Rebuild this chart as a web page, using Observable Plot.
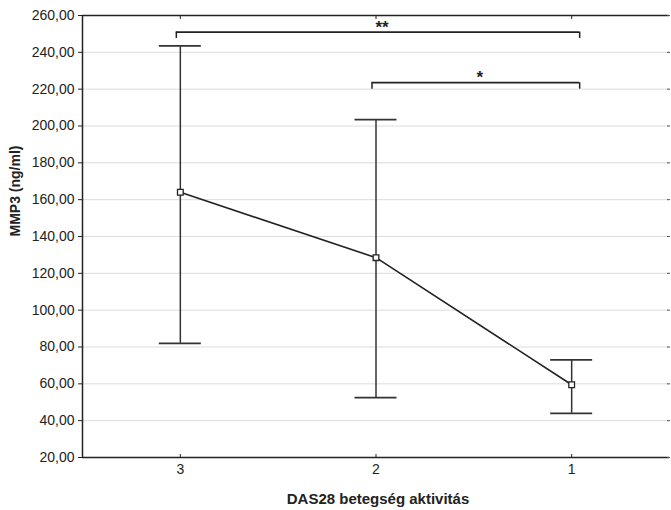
<!DOCTYPE html>
<html><head><meta charset="utf-8">
<script src="https://cdn.jsdelivr.net/npm/d3@7"></script>
<script src="https://cdn.jsdelivr.net/npm/@observablehq/plot@0.6"></script>
<style>body{margin:0;background:#fff;}</style>
</head><body><div id="chart"></div>
<script>
// DAS28 disease activity groups (x categories, displayed 3, 2, 1)
const groups = [3, 2, 1];
const means  = [164, 128.5, 59.5];
const upper  = [243.5, 203.5, 73];
const lower  = [82, 52.5, 44];
const yTicks = [20, 40, 60, 80, 100, 120, 140, 160, 180, 200, 220, 240, 260];
// significance brackets
const brFrom   = [3, 2];
const brTo     = [1, 1];
const brLevel  = [251, 223.5];
const brLabel  = ["**", "*"];

const data = groups.map((g, i) => ({g, mean: means[i], hi: upper[i], lo: lower[i]}));
const br = brFrom.map((f, i) => ({f, t: brTo[i], y: brLevel[i], lab: brLabel[i], mid: (f + brTo[i]) / 2}));
const fmt = d => d.toFixed(2).replace(".", ",");
const ink = "#222";

const chart = Plot.plot({
  width: 671, height: 510,
  marginLeft: 82, marginRight: 2, marginTop: 15, marginBottom: 53,
  style: {fontFamily: "'Liberation Sans', Arial, sans-serif", fontSize: "14px", color: ink, background: "#fff"},
  x: {type: "linear", domain: [3.5, 0.5], ticks: groups, label: null},
  y: {domain: [20, 260], ticks: yTicks, label: null},
  marks: [
    Plot.gridY(yTicks, {stroke: "#dcdcdc", strokeOpacity: 1}),
    Plot.ruleY([20], {stroke: ink, strokeWidth: 1.5}),
    Plot.ruleY([260], {stroke: ink, strokeWidth: 1.5}),
    Plot.ruleX([3.5], {stroke: ink, strokeWidth: 1.5}),
    Plot.axisY({ticks: yTicks, tickFormat: fmt, tickSize: 4, tickPadding: 4, fontSize: 14, stroke: ink}),
    Plot.axisY({anchor: "right", ticks: yTicks, text: null, label: null, tickSize: -3, stroke: "#555"}),
    Plot.axisX({ticks: groups, tickFormat: d => String(d), tickSize: -3, tickPadding: 10, fontSize: 14, stroke: ink}),
    Plot.axisX({anchor: "top", ticks: groups, text: null, label: null, tickSize: -3, stroke: ink}),
    // error bars
    Plot.ruleX(data, {x: "g", y1: "lo", y2: "hi", stroke: "#333", strokeWidth: 1.5}),
    Plot.ruleY(data, {y: "hi", x1: "g", x2: "g", insetLeft: -21, insetRight: -21, stroke: "#333", strokeWidth: 1.8}),
    Plot.ruleY(data, {y: "lo", x1: "g", x2: "g", insetLeft: -21, insetRight: -21, stroke: "#333", strokeWidth: 1.8}),
    // mean line
    Plot.line(data, {x: "g", y: "mean", stroke: ink, strokeWidth: 1.6}),
    Plot.dot(data, {x: "g", y: "mean", symbol: "square", r: 3.2, stroke: ink, fill: "#fff", strokeWidth: 1.3}),
    // significance brackets
    Plot.ruleY(br, {y: "y", x1: "f", x2: "t", insetLeft: -4, insetRight: -8, stroke: ink, strokeWidth: 1.8}),
    Plot.ruleX(br, {x: "f", y1: "y", y2: d => d.y - 3.5, dx: -4, stroke: ink, strokeWidth: 1.5}),
    Plot.ruleX(br, {x: "t", y1: "y", y2: d => d.y - 3.5, dx: 8, stroke: ink, strokeWidth: 1.5}),
    Plot.text(br, {x: "mid", y: "y", text: "lab", dy: -5, dx: 6, fontSize: 17, fontWeight: "bold", fill: ink}),
    // axis titles
    Plot.text(["DAS28 betegség aktivitás"], {frameAnchor: "bottom", dy: 46, dx: 2, text: d => d, fontSize: 15, fontWeight: "bold", fill: ink}),
    Plot.text(["MMP3 (ng/ml)"], {frameAnchor: "left", dx: -67, rotate: -90, text: d => d, fontSize: 14, fontWeight: "bold", fill: ink})
  ]
});
document.getElementById("chart").append(chart);
</script>
</body></html>
